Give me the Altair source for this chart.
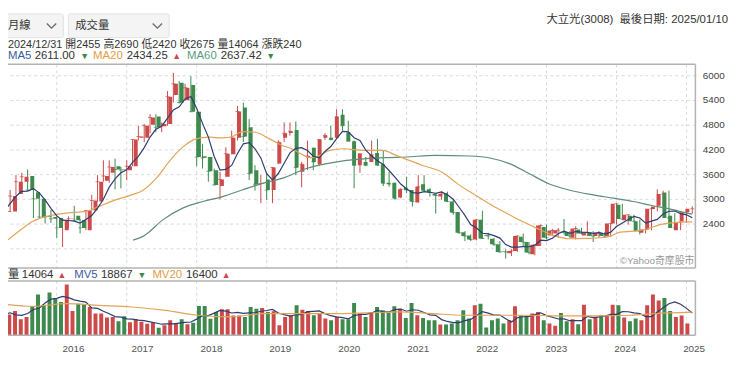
import altair as alt
import pandas as pd
import numpy as np

# ---------------- data: monthly candles, 2015/03 .. 2025/01 ----------------
start_month = "2015-03"

opens = [
    2680, 2696, 3120, 3416, 3552, 3160, 3000, 2580, 2560, 2536,                  # 2015 (Mar-Dec)
    2240, 2512, 2592, 2480, 2240, 2720, 2936, 3440, 3632, 3792, 3712, 3696,      # 2016
    3792, 4480, 4480, 4800, 5000, 4760, 4816, 5520, 5816, 5392, 5760, 5112,      # 2017
    4032, 4016, 3696, 3312, 3536, 4080, 4480, 5216, 4736, 3696, 3360, 3472,      # 2018
    3216, 3856, 4480, 4600, 4672, 3656, 4000, 4240, 3840, 4480, 4480, 4480,      # 2019
    5040, 4616, 4400, 3816, 3896, 3896, 4112, 3840, 3392, 3392, 3032, 3272,      # 2020
    3216, 2912, 3352, 3232, 3120, 3056, 3136, 2936, 2680, 2192, 2112, 2016,      # 2021
    2496, 2120, 2032, 1896, 1720, 1680, 1736, 2080, 1952, 1656, 1856, 2320,      # 2022
    2112, 2160, 2200, 2192, 2056, 2256, 2112, 2192, 2096, 2176, 2096, 2400,      # 2023
    2856, 2480, 2592, 2456, 2176, 2256, 2752, 2832, 3152, 2592, 2240, 2455,      # 2024
    2680,                                                                        # 2025 Jan
]
highs = [
    2780, 3216, 3576, 3632, 3712, 3216, 3000, 2696, 2736, 2576,
    2512, 2576, 2832, 2512, 2720, 3096, 3576, 3936, 3936, 3976, 3776, 3936,
    4440, 4776, 4816, 5056, 5056, 4856, 5616, 6056, 5856, 5792, 5976, 5112,
    4336, 4016, 3736, 3656, 4256, 4656, 5256, 5336, 4936, 3816, 3576, 3616,
    3760, 4416, 4856, 4856, 4880, 3896, 4416, 4240, 4440, 4592, 4776, 5176,
    5176, 4896, 4416, 4096, 4016, 4416, 4456, 4176, 3656, 3392, 3256, 3536,
    3216, 3576, 3576, 3256, 3136, 3176, 3176, 2976, 2680, 2216, 2136, 2496,
    2712, 2176, 2056, 1976, 1776, 1776, 2112, 2160, 1952, 1888, 2376, 2376,
    2272, 2296, 2512, 2216, 2336, 2296, 2456, 2216, 2216, 2200, 2416, 2896,
    2880, 2616, 2616, 2496, 2272, 2776, 3232, 3200, 3200, 2656, 2456, 2690,
    2820,
]
lows = [
    2620, 2680, 3100, 3176, 3200, 2536, 2536, 2400, 2416, 2056,
    1832, 2296, 2456, 2160, 2240, 2720, 2936, 3416, 3392, 3232, 3256, 3456,
    3792, 4416, 4376, 4592, 4616, 4616, 4776, 5336, 5312, 5376, 5112, 3792,
    3736, 3416, 3336, 2992, 3536, 4080, 4416, 4376, 3456, 3200, 2896, 2976,
    2896, 3840, 4376, 4536, 3576, 3280, 3696, 3696, 3792, 4432, 4416, 4480,
    4656, 4416, 3256, 3632, 3792, 3896, 3816, 3312, 3296, 2976, 3016, 3136,
    2816, 2912, 3176, 3056, 2640, 2976, 2920, 2616, 2152, 1976, 1976, 1992,
    2040, 2016, 1856, 1696, 1552, 1616, 1712, 1856, 1656, 1632, 1856, 2016,
    2096, 2056, 2136, 2056, 2016, 2136, 2096, 1952, 2056, 2056, 2080, 2376,
    2496, 2376, 2440, 2136, 2160, 2240, 2696, 2816, 2512, 2296, 2240, 2420,
    2640,
]
closes = [
    2700, 3072, 3416, 3536, 3216, 3000, 2560, 2560, 2520, 2296,
    2480, 2520, 2480, 2296, 2720, 2960, 3416, 3552, 3776, 3712, 3700, 3792,
    4440, 4512, 4776, 4976, 4736, 4816, 5480, 5792, 5336, 5696, 5112, 4016,
    4000, 3672, 3336, 3472, 4096, 4480, 5120, 4512, 3616, 3352, 3370, 3216,
    3760, 4376, 4592, 4640, 3760, 3840, 4040, 3896, 4440, 4536, 4440, 4992,
    4776, 4400, 3816, 4096, 3816, 4072, 3816, 3376, 3360, 3016, 3232, 3216,
    2936, 3296, 3200, 3152, 3080, 3120, 2936, 2672, 2176, 2096, 2016, 2496,
    2040, 2096, 1896, 1712, 1712, 1736, 2096, 1952, 1696, 1888, 2352, 2056,
    2232, 2240, 2192, 2096, 2280, 2160, 2192, 2096, 2176, 2096, 2400, 2880,
    2512, 2616, 2456, 2216, 2256, 2760, 2816, 3120, 2536, 2296, 2440, 2675,
    2760,
]
volumes = [
    14700, 17266, 11410, 13066, 20790, 28933, 21700, 30333, 26366, 23566,
    35933, 17266, 22400, 21933, 20066, 15400, 15400, 12600, 13066, 10033, 13533, 9333,
    11433, 9566, 8166, 9100, 5366, 7233, 10733, 8400, 11433, 7933, 8866, 20766,
    20766, 11666, 16566, 18433, 18433, 14000, 14000, 13066, 20066, 18900, 19366, 16566,
    17033, 7233, 13066, 14233, 21233, 18200, 17266, 14233, 15400, 11900, 10733, 13066,
    11433, 11433, 22866, 15400, 13066, 16566, 20066, 17733, 15866, 20533, 18900, 12366,
    22866, 14233, 12366, 10733, 10733, 7700, 7700, 8400, 10733, 17733, 11900, 21233,
    22400, 5600, 10733, 11900, 8400, 10733, 20533, 14233, 13066, 15400, 16566, 10733,
    8400, 6766, 15866, 10033, 11433, 7933, 21700, 11433, 13066, 14233, 13766, 21700,
    21233, 12600, 10033, 11900, 10733, 21233, 28933, 24733, 26366, 17266, 13066, 14064,
    8400,
]

# moving-average lines (time in fractional years)
ma20_t = [2015.19, 2015.43, 2015.66, 2015.90, 2016.14, 2016.42, 2016.60, 2016.84, 2017.07,
          2017.24, 2017.42, 2017.62, 2017.80, 2017.99, 2018.18, 2018.37, 2018.51, 2018.65,
          2018.84, 2019.04, 2019.22, 2019.36, 2019.53, 2019.62, 2019.76, 2019.90, 2020.09,
          2020.38, 2020.66, 2020.85, 2021.22, 2021.52, 2021.72, 2021.90, 2022.09, 2022.29,
          2022.47, 2022.65, 2022.85, 2023.13, 2023.32, 2023.57, 2023.77, 2023.91, 2024.05,
          2024.24, 2024.42, 2024.62, 2024.80, 2024.99, 2025.08]
ma20_v = [1850, 2176, 2456, 2592, 2656, 2696, 2816, 2976, 3096,
          3216, 3496, 3936, 4256, 4456, 4496, 4480, 4512, 4632,
          4616, 4456, 4296, 4216, 4056, 4000, 4056, 4176, 4216,
          4176, 4176, 4056, 3816, 3636, 3376, 3176, 2976, 2776,
          2616, 2456, 2296, 2096, 2032, 2040, 2056, 2096, 2192,
          2216, 2256, 2376, 2416, 2440, 2440]
ma60_t = [2017.09, 2017.24, 2017.52, 2017.80, 2018.09, 2018.37, 2018.65, 2018.94, 2019.22,
          2019.57, 2019.86, 2020.14, 2020.42, 2020.70, 2020.99, 2021.41, 2021.90, 2022.19,
          2022.47, 2022.75, 2023.04, 2023.32, 2023.67, 2023.96, 2024.24, 2024.52, 2024.71,
          2024.90, 2025.08]
ma60_v = [2000, 2096, 2496, 2776, 2936, 3056, 3216, 3376, 3496,
          3736, 3856, 3936, 3976, 4000, 4016, 4056, 4040, 3992,
          3856, 3616, 3360, 3216, 3096, 3016, 2936, 2832, 2776,
          2696, 2630]
mv20_t = [2015.19, 2015.66, 2016.14, 2016.60, 2017.07, 2017.55, 2018.02, 2018.48, 2018.96,
          2019.43, 2019.90, 2020.42, 2020.89, 2021.37, 2021.83, 2022.30, 2022.78, 2023.25,
          2023.71, 2024.19, 2024.56, 2025.08]
mv20_v = [22400, 20533, 22400, 21233, 20066, 17733, 14233, 13066, 15400,
          15400, 15400, 15866, 16566, 15400, 14233, 14233, 14233, 13766,
          13766, 14233, 15400, 16400]

year_ticks = list(range(2016, 2026))
price_ticks = [1800, 2400, 3000, 3600, 4200, 4800, 5400, 6000]

# ---------------- styles ----------------
FONT = "Liberation Sans, Noto Sans CJK TC, sans-serif"
RED = "#cc4a4a"
GREEN = "#3c8a4e"
MA5C = "#2f3d70"
MA20C = "#e2a457"
MA60C = "#5f8d78"
MA5T = "#3d5ca3"
MA20T = "#e59c3f"
MA60T = "#5a9a82"
GRID = "#dadada"
BORDER = "#b3b3b3"

W, H = 695, 329
P_TOP, P_BOT, V_TOP, V_BOT = 55, 261, 274, 329

months = pd.period_range(start_month, periods=len(opens), freq="M")
df = pd.DataFrame({
    "pos": [p.year + p.month / 12 for p in months],
    "open": opens, "high": highs, "low": lows, "close": closes, "vol": volumes,
})
df["dir"] = np.where(df["close"] >= df["open"], "up", "down")

xs = alt.Scale(domain=[2015.3031, 2025.1278], nice=False, zero=False)
ps = alt.Scale(domain=[1320, 6264], range=[P_BOT, P_TOP], nice=False, zero=False)
vs = alt.Scale(domain=[0, 38500], range=[V_BOT, V_TOP], nice=False, zero=False)
cs = alt.Scale(domain=["up", "down"], range=[RED, GREEN])
col = alt.Color("dir:N", scale=cs, legend=None)

price_axis = alt.Axis(orient="right", values=price_ticks, grid=True, gridDash=[3, 3],
                      gridColor=GRID, ticks=False, tickSize=0, domain=False,
                      labelPadding=7, labelFontSize=10, labelColor="#444", labelFont=FONT,
                      format="d", labelExpr="datum.value < 2000 ? '' : datum.label",
                      title=None)
x_axis = alt.Axis(orient="bottom", values=year_ticks, format="d", labelAlign="left",
                  labelOffset=1, labelBaseline="middle", labelPadding=13, labelFlush=False,
                  ticks=False, tickSize=0, domain=False, grid=False, labelFontSize=10,
                  labelColor="#555", labelFont=FONT, title=None)

base = alt.Chart(df)
X = alt.X("pos:Q", scale=xs, axis=None)

years_df = pd.DataFrame({"yr": year_ticks})
vgrid_p = alt.Chart(years_df).mark_rule(strokeDash=[3, 3], color=GRID).encode(
    x=alt.X("yr:Q", scale=xs, axis=None), y=alt.value(P_TOP), y2=alt.value(P_BOT))
vgrid_v = alt.Chart(years_df).mark_rule(strokeDash=[3, 3], color=GRID).encode(
    x=alt.X("yr:Q", scale=xs, axis=None), y=alt.value(V_TOP), y2=alt.value(V_BOT))

wick = base.mark_rule(strokeWidth=1, clip=True).encode(
    x=X, y=alt.Y("low:Q", scale=ps, axis=price_axis), y2="high:Q", color=col)
body = base.mark_bar(size=4, clip=True).encode(
    x=X, y=alt.Y("open:Q", scale=ps, axis=None), y2="close:Q", color=col)
tick = base.mark_tick(orient="horizontal", size=4, thickness=1, clip=True).encode(
    x=X, y=alt.Y("close:Q", scale=ps, axis=None), color=col)

ma5 = base.transform_window(ma5="mean(close)", frame=[-4, 0],
                            sort=[alt.SortField("pos")]).mark_line(
    color=MA5C, strokeWidth=1.2, clip=True).encode(
    x=X, y=alt.Y("ma5:Q", scale=ps, axis=None))
ma20 = alt.Chart(pd.DataFrame({"t": ma20_t, "v": ma20_v})).mark_line(
    color=MA20C, strokeWidth=1.2, clip=True, interpolate="monotone").encode(
    x=alt.X("t:Q", scale=xs, axis=None), y=alt.Y("v:Q", scale=ps, axis=None))
ma60 = alt.Chart(pd.DataFrame({"t": ma60_t, "v": ma60_v})).mark_line(
    color=MA60C, strokeWidth=1.2, clip=True, interpolate="monotone").encode(
    x=alt.X("t:Q", scale=xs, axis=None), y=alt.Y("v:Q", scale=ps, axis=None))

volb = base.mark_bar(size=4, clip=True).encode(
    x=alt.X("pos:Q", scale=xs, axis=x_axis), y=alt.Y("vol:Q", scale=vs, axis=None),
    y2=alt.datum(0), color=col)
mv5 = base.transform_window(mv5="mean(vol)", frame=[-4, 0],
                            sort=[alt.SortField("pos")]).mark_line(
    color=MA5C, strokeWidth=1.2, clip=True).encode(
    x=X, y=alt.Y("mv5:Q", scale=vs, axis=None))
mv20 = alt.Chart(pd.DataFrame({"t": mv20_t, "v": mv20_v})).mark_line(
    color=MA20C, strokeWidth=1.2, clip=True, interpolate="monotone").encode(
    x=alt.X("t:Q", scale=xs, axis=None), y=alt.Y("v:Q", scale=vs, axis=None))

one = pd.DataFrame({"a": [0]})


def hrule(x1, x2, y, color=BORDER, w=1.5):
    return alt.Chart(one).mark_rule(color=color, strokeWidth=w).encode(
        x=alt.value(x1), x2=alt.value(x2), y=alt.value(y))


def vrule(x, y1, y2, color=BORDER, w=1.5):
    return alt.Chart(one).mark_rule(color=color, strokeWidth=w).encode(
        x=alt.value(x), y=alt.value(y1), y2=alt.value(y2))


borders = [
    hrule(-8, W, P_TOP), vrule(W, P_TOP, P_BOT), hrule(-8, W, P_BOT),
    hrule(-8, W, V_TOP), vrule(W, V_TOP, V_BOT), hrule(-8, W, V_BOT),
]


def box(x1, x2):
    return alt.Chart(one).mark_rect(fill="#f4f4f4", stroke="#e2e2e2", cornerRadius=2).encode(
        x=alt.value(x1), x2=alt.value(x2), y=alt.value(4), y2=alt.value(28))


def chevron(x):
    return alt.Chart(one).mark_point(shape="M-1,-0.5L0,0.5L1,-0.5", filled=False,
                                     size=90, strokeWidth=1.4, color="#333").encode(
        x=alt.value(x), y=alt.value(16))


left_texts = pd.DataFrame([
    ("月線", 0, 16, "#333333", 11.5),
    ("成交量", 68, 16, "#333333", 11.5),
    ("2024/12/31 開2455 高2690 低2420 收2675 量14064 漲跌240", 0, 35, "#333333", 11),
    ("MA5", 0, 47, MA5T, 11.5), ("2611.00", 27, 47, "#333333", 11.5), ("▼", 73, 47, GREEN, 9),
    ("MA20", 86, 47, MA20T, 11.5), ("2434.25", 120, 47, "#333333", 11.5), ("▲", 166, 47, RED, 9),
    ("MA60", 181, 47, MA60T, 11.5), ("2637.42", 215, 47, "#333333", 11.5), ("▼", 261, 47, GREEN, 9),
    ("量", 0, 268, "#333333", 11.5), ("14064", 14, 268, "#333333", 11.5), ("▲", 50, 268, RED, 9),
    ("MV5", 67, 268, MA5T, 11.5), ("18867", 94, 268, "#333333", 11.5), ("▼", 131, 268, GREEN, 9),
    ("MV20", 146, 268, MA20T, 11.5), ("16400", 180, 268, "#333333", 11.5), ("▲", 216, 268, RED, 9),
], columns=["text", "x", "y", "color", "size"])
right_texts = pd.DataFrame([
    ("大立光(3008)", 612, 10, "#333333", 11.5),
    ("最後日期: 2025/01/10", 728, 10, "#333333", 11.5),
    ("©Yahoo奇摩股市", 694, 254, "#999999", 10),
], columns=["text", "x", "y", "color", "size"])


def texts(d, align):
    return alt.Chart(d).mark_text(align=align, baseline="middle", font=FONT).encode(
        text="text:N",
        x=alt.X("x:Q", scale=None, axis=None),
        y=alt.Y("y:Q", scale=None, axis=None),
        color=alt.Color("color:N", scale=None, legend=None),
        size=alt.Size("size:Q", scale=None, legend=None),
    )


chart = alt.layer(
    vgrid_p, vgrid_v,
    wick, body, tick,
    ma60, ma20, ma5,
    volb, mv5, mv20,
    *borders,
    box(-8, 56), box(61, 163), chevron(44), chevron(151),
    texts(left_texts, "left"), texts(right_texts, "right"),
).resolve_scale(
    x="independent", y="independent", color="independent", size="independent"
).properties(
    width=W, height=H,
    autosize=alt.AutoSizeParams(type="none"),
    padding={"left": 0, "top": 0, "right": 37, "bottom": 28},
    background="white",
).configure_view(stroke=None)

chart.save("out.html", embed_options={"renderer": "svg", "actions": False})
